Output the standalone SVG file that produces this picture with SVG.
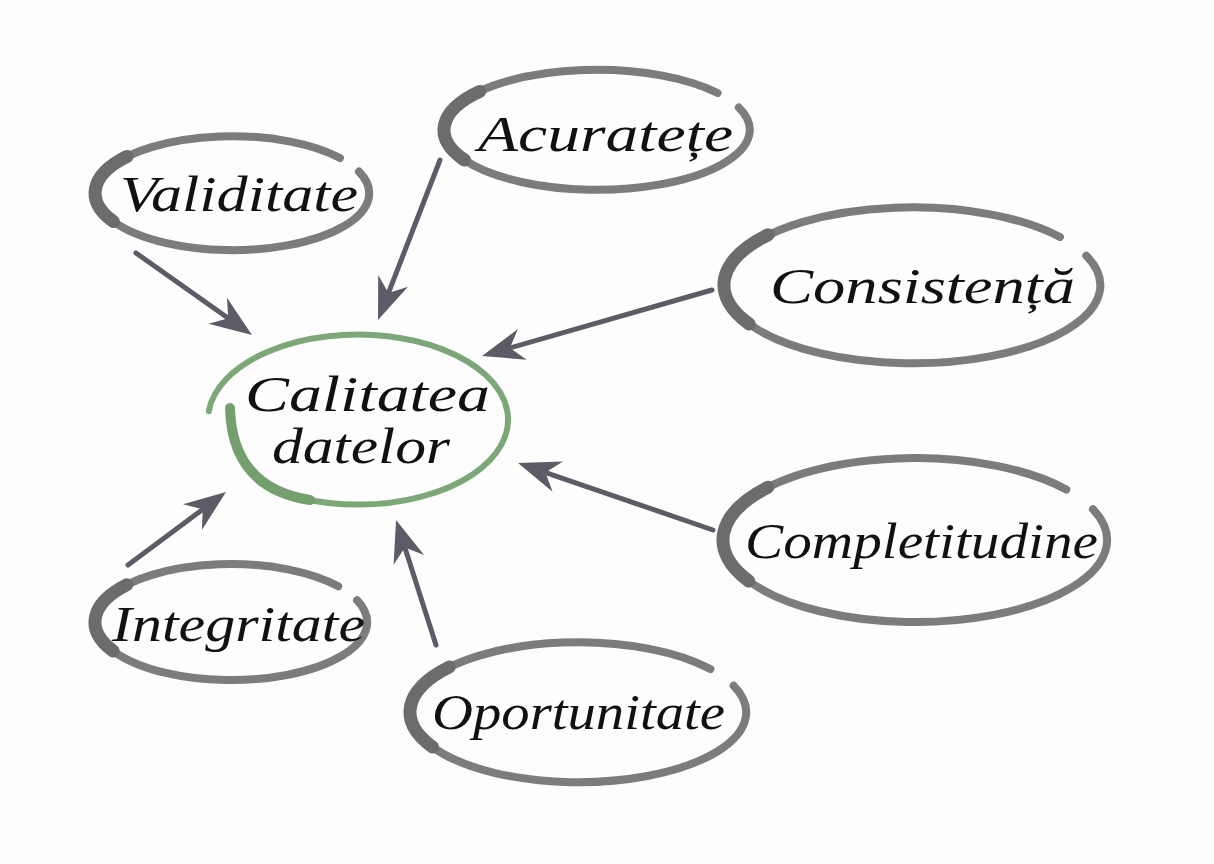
<svg xmlns="http://www.w3.org/2000/svg" width="1214" height="864" viewBox="0 0 1214 864">
<style>
.ring{fill:none;stroke:#7c7c7c;stroke-width:8;stroke-linecap:round}
.ringdark{fill:none;stroke:#6c6c6c;stroke-width:13;stroke-linecap:round}
.green{fill:none;stroke:#7ea779;stroke-width:6;stroke-linecap:round}
.greendark{fill:none;stroke:#74a06e;stroke-width:10;stroke-linecap:round}
.lbl{font-family:"Liberation Serif","DejaVu Serif",serif;font-style:italic;font-size:51px;fill:#111}
.arrow{stroke:#5f5b66;stroke-width:5;stroke-linecap:round;fill:none}
</style>
<defs>
<marker id="ah" markerUnits="userSpaceOnUse" markerWidth="44" markerHeight="34" refX="32" refY="16" orient="auto" viewBox="0 0 44 34">
<path d="M0,0 L42,16 L0,32 L13,16 Z" fill="#5f5b66"/>
</marker>
</defs>
<rect width="1214" height="864" fill="#fdfdfd"/>
<g id="connectors">
<line class="arrow" x1="136" y1="253" x2="243.8" y2="329.2" marker-end="url(#ah)"/>
<line class="arrow" x1="440" y1="160" x2="381.6" y2="310.7" marker-end="url(#ah)"/>
<line class="arrow" x1="712" y1="290" x2="491.6" y2="353.2" marker-end="url(#ah)"/>
<line class="arrow" x1="713" y1="530" x2="527.5" y2="466.3" marker-end="url(#ah)"/>
<line class="arrow" x1="436" y1="645" x2="399.1" y2="529.5" marker-end="url(#ah)"/>
<line class="arrow" x1="128" y1="565" x2="218" y2="498" marker-end="url(#ah)"/>
</g>
<g id="center">
<path class="green" d="M208.8,411.1 A150 85 0 1 1 300,498"/>
<path class="greendark" d="M310,500 Q232,488 230,408"/>
<text class="lbl" x="245" y="411" textLength="245" lengthAdjust="spacingAndGlyphs">Calitatea</text>
<text class="lbl" x="272" y="463" textLength="178" lengthAdjust="spacingAndGlyphs">datelor</text>
</g>
<g id="validitate">
<path class="ring" d="M340,158 A137 57 0 1 0 359,171.6"/>
<path class="ringdark" d="M127.1,156.4 A137 57 0 0 0 113.4,221.5"/>
<text class="lbl" x="120" y="211" textLength="238" lengthAdjust="spacingAndGlyphs">Validitate</text>
</g>
<g id="acuratete">
<path class="ring" d="M717.6,93 A153 60 0 1 0 738.8,107.5"/>
<path class="ringdark" d="M479.8,91.4 A153 60 0 0 0 464.5,160"/>
<text class="lbl" x="478" y="151" textLength="255" lengthAdjust="spacingAndGlyphs">Acuratețe</text>
</g>
<g id="consistenta">
<path class="ring" d="M1060,237 A188 78 0 1 0 1086.3,255.7"/>
<path class="ringdark" d="M768,234.8 A188 78 0 0 0 749.2,324"/>
<text class="lbl" x="770" y="303" textLength="305" lengthAdjust="spacingAndGlyphs">Consistență</text>
</g>
<g id="completitudine">
<path class="ring" d="M1066.3,489.5 A192 82 0 1 0 1093,509.2"/>
<path class="ringdark" d="M767.9,487.3 A192 82 0 0 0 748.7,581"/>
<text class="lbl" x="745" y="558" textLength="353" lengthAdjust="spacingAndGlyphs">Completitudine</text>
</g>
<g id="oportunitate">
<path class="ring" d="M710.4,669 A168 70 0 1 0 733.7,685.7"/>
<path class="ringdark" d="M449.3,667 A168 70 0 0 0 432.5,747"/>
<text class="lbl" x="432" y="729" textLength="293" lengthAdjust="spacingAndGlyphs">Oportunitate</text>
</g>
<g id="integritate">
<path class="ring" d="M338.2,586.3 A136 58 0 1 0 357.1,600.2"/>
<path class="ringdark" d="M126.8,584.7 A136 58 0 0 0 113.2,651"/>
<text class="lbl" x="112" y="641" textLength="253" lengthAdjust="spacingAndGlyphs">Integritate</text>
</g>
</svg>
